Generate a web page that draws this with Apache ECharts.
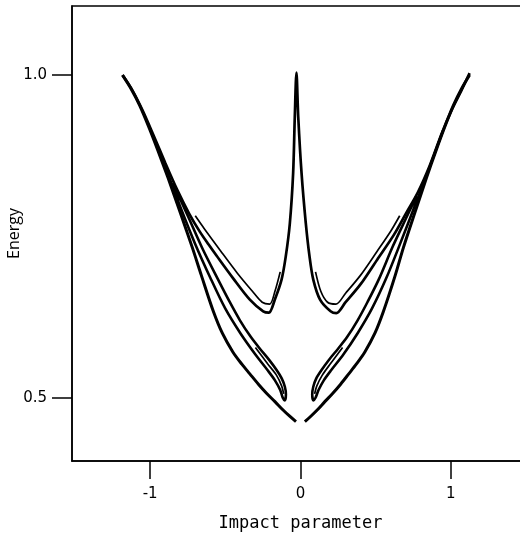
<!DOCTYPE html>
<html>
<head>
<meta charset="utf-8">
<script src="https://cdn.jsdelivr.net/npm/echarts@6/dist/echarts.min.js"></script>
<style>
  html, body { margin: 0; padding: 0; background: #fff; }
  #chart { width: 520px; height: 538px; }
</style>
</head>
<body>
<div id="chart"></div>
<script>
// tick values
const xTicks = [-1, 0, 1];
const yTicks = [0.5, 1.0];

// outer V, left and right branches
const outerLeft = [[-1.184, 1.0], [-1.13, 0.98], [-1.07, 0.953], [-1.01, 0.92], [-0.95, 0.884], [-0.88, 0.84],
    [-0.80, 0.787], [-0.72, 0.733], [-0.66, 0.69], [-0.58, 0.634], [-0.52, 0.60], [-0.45, 0.571],
    [-0.39, 0.552], [-0.337, 0.537], [-0.28, 0.521], [-0.226, 0.507], [-0.17, 0.494], [-0.116, 0.481],
    [-0.07, 0.471], [-0.03, 0.463]];
const outerRight = [[0.029, 0.463], [0.067, 0.471], [0.111, 0.481], [0.162, 0.494], [0.215, 0.507], [0.267, 0.521],
    [0.321, 0.537], [0.371, 0.552], [0.428, 0.571], [0.495, 0.60], [0.552, 0.634], [0.628, 0.688],
    [0.685, 0.733], [0.761, 0.787], [0.837, 0.84], [0.903, 0.884], [0.96, 0.92], [1.017, 0.953],
    [1.074, 0.98], [1.125, 1.0]];

// slim loops near the bottom: lower edge down, round the tip, upper edge back up
const dropLeft = [[-1.0, 0.916], [-0.9, 0.858], [-0.8, 0.796], [-0.7, 0.738], [-0.6, 0.686], [-0.5, 0.638],
    [-0.4, 0.60], [-0.3, 0.567], [-0.22, 0.543], [-0.17, 0.527], [-0.135, 0.512], [-0.118, 0.50],
    [-0.105, 0.496], [-0.097, 0.505], [-0.104, 0.517], [-0.125, 0.53], [-0.159, 0.543], [-0.21, 0.559],
    [-0.27, 0.576], [-0.33, 0.594], [-0.403, 0.62], [-0.47, 0.648], [-0.548, 0.683], [-0.65, 0.73],
    [-0.75, 0.782], [-0.85, 0.833]];
const dropRight = [[0.95, 0.915], [0.855, 0.855], [0.76, 0.797], [0.665, 0.74], [0.57, 0.685], [0.475, 0.638],
    [0.38, 0.60], [0.285, 0.567], [0.205, 0.543], [0.155, 0.527], [0.12, 0.512], [0.10, 0.50],
    [0.086, 0.496], [0.078, 0.505], [0.085, 0.517], [0.105, 0.53], [0.14, 0.543], [0.19, 0.559],
    [0.25, 0.576], [0.31, 0.594], [0.38, 0.62], [0.445, 0.648], [0.52, 0.683], [0.615, 0.735],
    [0.71, 0.782], [0.77, 0.812]];
const dropLeftInner = [[-0.30, 0.578], [-0.22, 0.553], [-0.16, 0.535], [-0.125, 0.518], [-0.112, 0.506]];
const dropRightInner = [[0.28, 0.578], [0.20, 0.553], [0.145, 0.535], [0.108, 0.518], [0.094, 0.506]];

// upper W with the central spike
const upperW = [[-1.184, 1.0], [-1.12, 0.977], [-1.05, 0.945], [-0.98, 0.908], [-0.90, 0.864], [-0.82, 0.822],
    [-0.74, 0.785], [-0.669, 0.757], [-0.61, 0.737], [-0.558, 0.72], [-0.448, 0.685], [-0.337, 0.652],
    [-0.248, 0.634], [-0.21, 0.632], [-0.171, 0.652], [-0.126, 0.683], [-0.098, 0.719], [-0.071, 0.77],
    [-0.049, 0.848], [-0.038, 0.935], [-0.027, 1.004], [-0.015, 0.935], [0.007, 0.848], [0.035, 0.771],
    [0.06, 0.719], [0.085, 0.683], [0.13, 0.652], [0.2, 0.634], [0.238, 0.631], [0.30, 0.648],
    [0.40, 0.676], [0.51, 0.714], [0.62, 0.752], [0.70, 0.785], [0.78, 0.818], [0.86, 0.86],
    [0.94, 0.91], [1.01, 0.948], [1.07, 0.976], [1.125, 1.003]];
const upperLeftInner = [[-0.70, 0.782], [-0.64, 0.762], [-0.53, 0.727], [-0.42, 0.693], [-0.32, 0.665],
    [-0.255, 0.648], [-0.205, 0.645], [-0.17, 0.665], [-0.135, 0.695]];
const upperRightInner = [[0.10, 0.695], [0.135, 0.665], [0.18, 0.648], [0.235, 0.645], [0.30, 0.662],
    [0.40, 0.69], [0.51, 0.727], [0.60, 0.758], [0.66, 0.782]];

const curves = [
    [outerLeft, 3], [outerRight, 3], [dropLeft, 2.6], [dropRight, 2.6],
    [dropLeftInner, 1.7], [dropRightInner, 1.7], [upperW, 2.7],
    [upperLeftInner, 1.7], [upperRightInner, 1.7]
];

const chart = echarts.init(document.getElementById('chart'));
const numFont = 'DejaVu Sans';

chart.setOption({
    backgroundColor: '#fff',
    animation: false,
    grid: {
        left: 72, top: 6, right: -9, bottom: 77,
        containLabel: false,
        outerBoundsMode: 'none',
        show: true, borderColor: '#000', borderWidth: 1.5
    },
    xAxis: {
        type: 'value',
        min: -1.52, max: 1.52,
        name: 'Impact parameter',
        nameLocation: 'middle',
        nameGap: 54,
        nameMoveOverlap: false,
        nameTextStyle: { color: '#000', fontSize: 17, fontFamily: 'DejaVu Sans Mono' },
        axisLine: { show: true, onZero: false, lineStyle: { color: '#000', width: 1.5 } },
        axisTick: { show: true, customValues: xTicks, length: 18, lineStyle: { color: '#000', width: 1.5 } },
        axisLabel: {
            customValues: xTicks, margin: 26, color: '#000', fontSize: 15, fontFamily: numFont,
            formatter: v => String(v)
        },
        splitLine: { show: false }
    },
    yAxis: {
        type: 'value',
        min: 0.402, max: 1.107,
        name: 'Energy',
        nameLocation: 'middle',
        nameGap: 50,
        nameMoveOverlap: false,
        nameTextStyle: { color: '#000', fontSize: 16, fontFamily: 'Open Sans' },
        axisLine: { show: true, onZero: false, lineStyle: { color: '#000', width: 1.5 } },
        axisTick: { show: true, customValues: yTicks, length: 20, lineStyle: { color: '#000', width: 1.5 } },
        axisLabel: {
            customValues: yTicks, margin: 25, color: '#000', fontSize: 15, fontFamily: numFont,
            formatter: v => v.toFixed(1)
        },
        splitLine: { show: false }
    },
    series: curves.map(function (c) {
        return {
            type: 'line',
            data: c[0],
            showSymbol: false,
            smooth: 0.3,
            silent: true,
            lineStyle: { color: '#000', width: c[1] }
        };
    })
});
</script>
</body>
</html>
